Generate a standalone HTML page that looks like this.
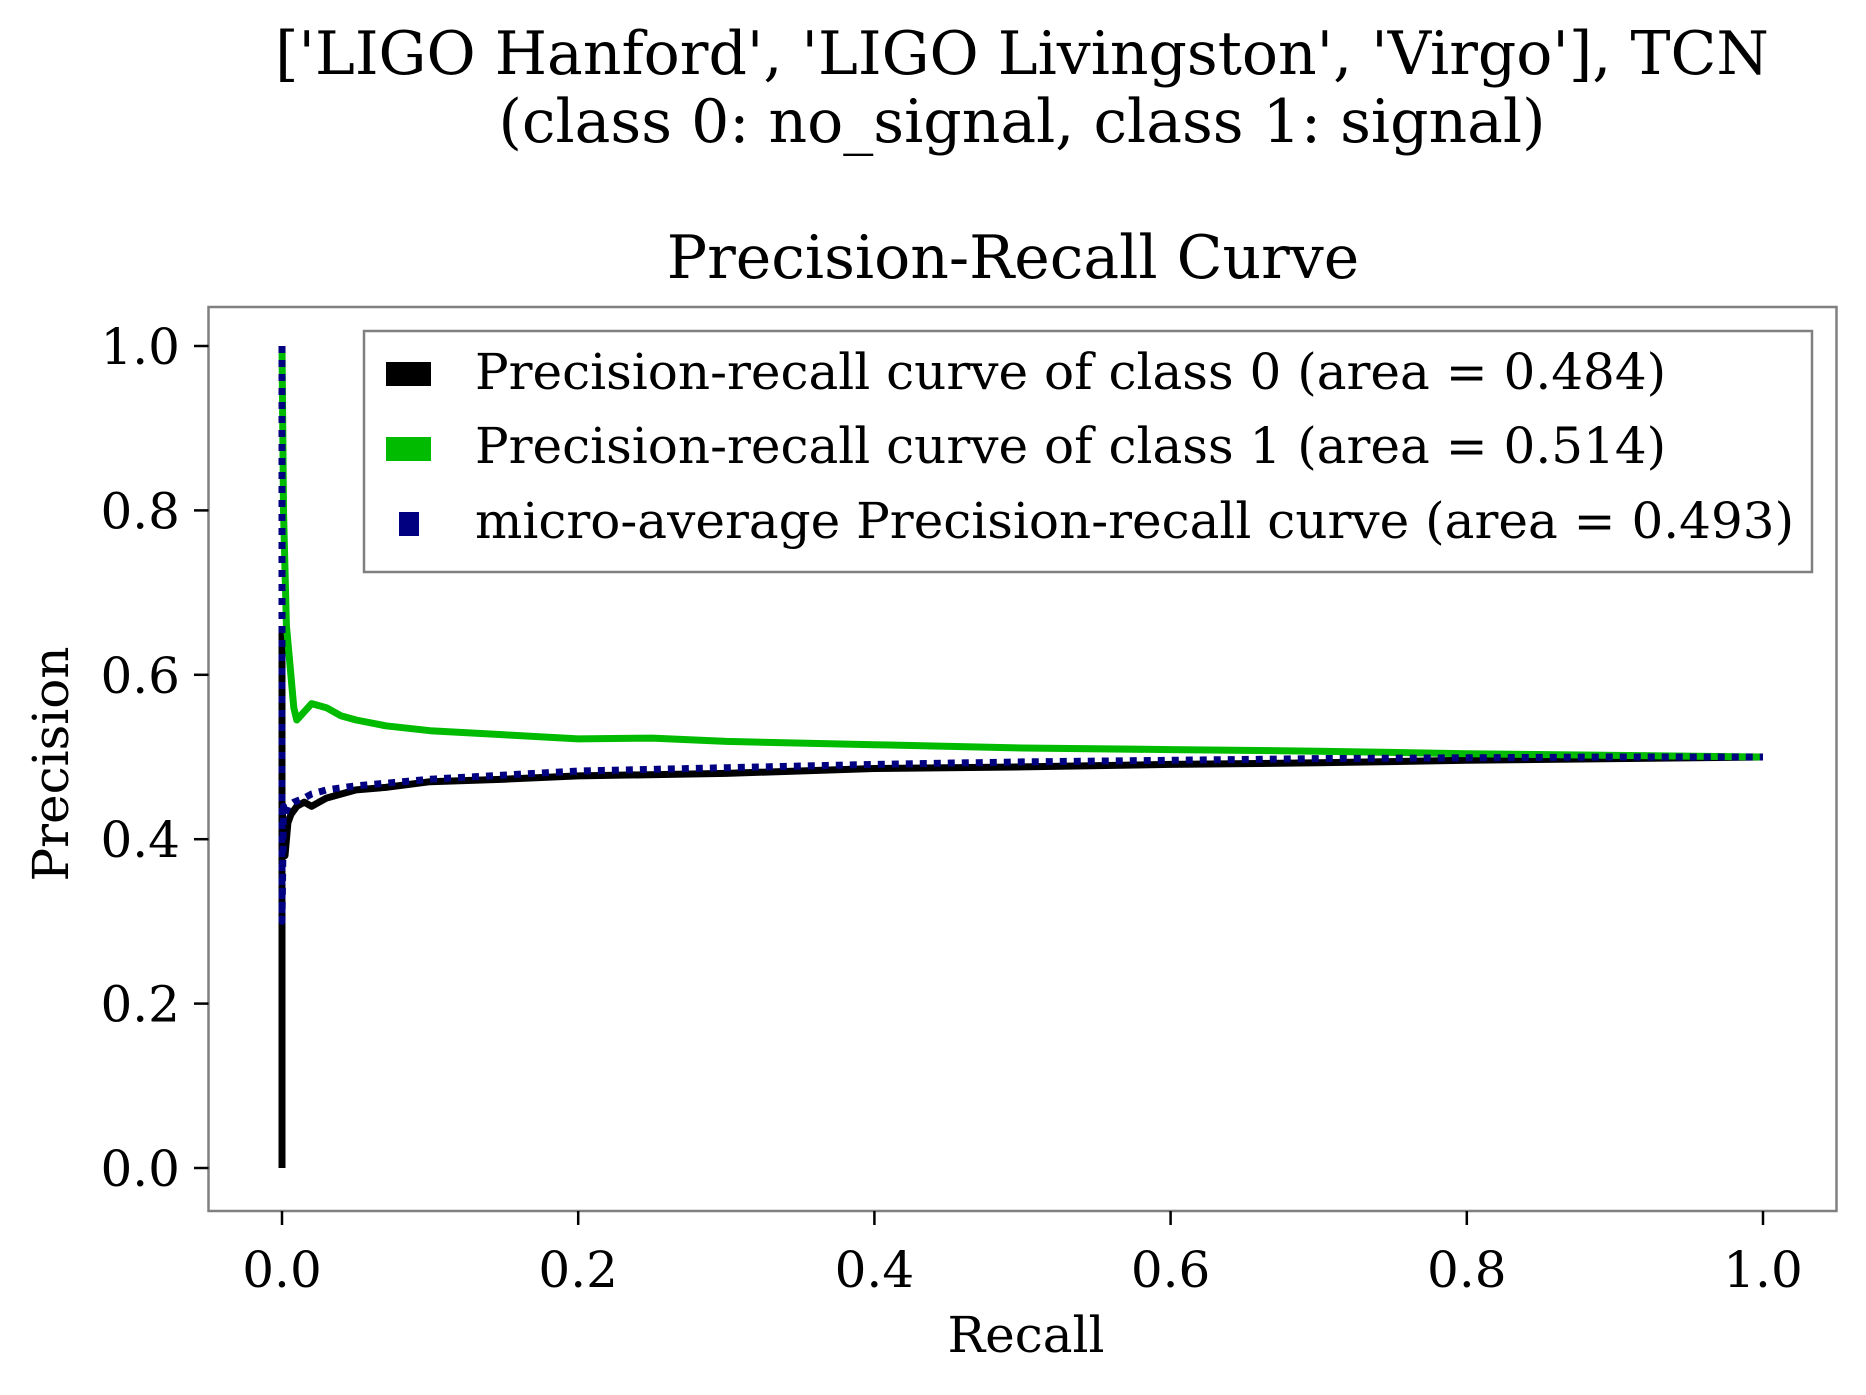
<!DOCTYPE html>
<html><head><meta charset="utf-8"><style>
html,body{margin:0;padding:0;background:#fff}
svg text{font-family:"DejaVu Serif","Liberation Serif",serif;fill:#000}
</style></head><body>
<svg id="chart" width="1866" height="1390" xmlns="http://www.w3.org/2000/svg">
<text x="1022" y="74" font-size="60" text-anchor="middle">['LIGO Hanford', 'LIGO Livingston', 'Virgo'], TCN</text>
<text x="1022" y="142" font-size="60" text-anchor="middle">(class 0: no_signal, class 1: signal)</text>
<text x="1013" y="278" font-size="60" text-anchor="middle">Precision-Recall Curve</text>
<g id="plot"></g>
<rect x="208.5" y="307" width="1628" height="904" fill="none" stroke="#808080" stroke-width="2.5"/>
<g id="ticks"></g>
<text x="1026" y="1352" font-size="50" text-anchor="middle">Recall</text>
<text transform="translate(68,764) rotate(-90)" font-size="50" text-anchor="middle">Precision</text>
<g>
<rect x="364" y="331" width="1448" height="241" fill="#fff" stroke="#808080" stroke-width="2.5"/>
<rect x="386" y="362" width="45" height="24" fill="#000"/>
<text x="475" y="389" font-size="50">Precision-recall curve of class 0 (area = 0.484)</text>
<rect x="386" y="437" width="45" height="24" fill="#00bb00"/>
<text x="475" y="463" font-size="50">Precision-recall curve of class 1 (area = 0.514)</text>
<rect x="399" y="512" width="20" height="24" fill="#000080"/>
<text x="475" y="538" font-size="50">micro-average Precision-recall curve (area = 0.493)</text>
</g>
</svg>
<script>
const xTicks = [0, 0.2, 0.4, 0.6, 0.8, 1.0];
const yTicks = [0, 0.2, 0.4, 0.6, 0.8, 1.0];
const tickLabels = ["0.0","0.2","0.4","0.6","0.8","1.0"];
const recall0 = [0, 0, 0, 0.002, 0.004, 0.006, 0.01, 0.015, 0.02, 0.03, 0.04, 0.05, 0.07, 0.1, 0.15, 0.2, 0.3, 0.4, 0.5, 0.6, 0.7, 0.8, 0.9, 1.0];
const precision0 = [0, 0.65, 0.44, 0.38, 0.42, 0.43, 0.44, 0.445, 0.44, 0.45, 0.455, 0.46, 0.463, 0.47, 0.473, 0.477, 0.48, 0.486, 0.488, 0.491, 0.493, 0.496, 0.498, 0.5];
const recall1 = [0, 0.001, 0.003, 0.005, 0.008, 0.01, 0.015, 0.02, 0.03, 0.04, 0.05, 0.07, 0.1, 0.15, 0.2, 0.25, 0.3, 0.4, 0.5, 0.6, 0.7, 0.8, 0.9, 1.0];
const precision1 = [1.0, 0.8, 0.66, 0.62, 0.56, 0.545, 0.555, 0.565, 0.56, 0.55, 0.545, 0.538, 0.532, 0.527, 0.522, 0.523, 0.519, 0.515, 0.511, 0.509, 0.507, 0.504, 0.502, 0.5];
const recallM = [0, 0, 0.001, 0.002, 0.004, 0.008, 0.015, 0.02, 0.03, 0.05, 0.07, 0.1, 0.15, 0.2, 0.3, 0.4, 0.5, 0.6, 0.7, 0.8, 0.9, 1.0];
const precisionM = [1.0, 0.3, 0.44, 0.43, 0.44, 0.445, 0.45, 0.455, 0.46, 0.465, 0.468, 0.473, 0.478, 0.483, 0.487, 0.491, 0.494, 0.496, 0.498, 0.499, 0.5, 0.5];

const NS = "http://www.w3.org/2000/svg";
function xs(v){ return 282 + v * 1481; }
function ys(v){ return 1168 - v * 822; }
const plot = document.getElementById('plot');
const ticks = document.getElementById('ticks');
function mk(tag, attrs, parent){ const e=document.createElementNS(NS,tag); for(const k in attrs) e.setAttribute(k, attrs[k]); parent.appendChild(e); return e; }
function drawLine(rx, py, color, dash, name){
  const d = rx.map((r,i)=>(i?'L':'M')+xs(r).toFixed(1)+','+ys(py[i]).toFixed(1)).join(' ');
  const p = mk('path', {d:d, fill:'none', stroke:color, 'stroke-width':7, 'stroke-linejoin':'round'}, plot);
  if (dash) p.setAttribute('stroke-dasharray', dash);
  
  
}
drawLine(recall0, precision0, '#000', null, 'curve-class0');
drawLine(recall1, precision1, '#00bb00', null, 'curve-class1');
drawLine(recallM, precisionM, '#000080', '7,7', 'curve-micro-average');
xTicks.forEach((v,i)=>{
  const l = mk('line',{x1:xs(v),x2:xs(v),y1:1211,y2:1225,stroke:'#000','stroke-width':2.5},ticks);
  
  
  const t = mk('text',{x:xs(v),y:1287,'font-size':50,'text-anchor':'middle'},ticks);
  t.textContent = tickLabels[i];
  
  
});
yTicks.forEach((v,i)=>{
  const l = mk('line',{x1:194,x2:208.5,y1:ys(v),y2:ys(v),stroke:'#000','stroke-width':2.5},ticks);
  
  
  const t = mk('text',{x:180,y:ys(v)+18,'font-size':50,'text-anchor':'end'},ticks);
  t.textContent = tickLabels[i];
  
  
});
</script>
</body></html>
